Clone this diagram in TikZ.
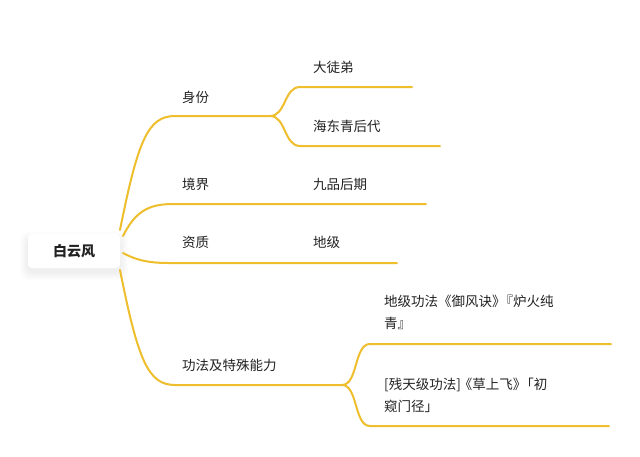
\documentclass[tikz,border=0pt]{standalone}
\usepackage{fontspec}
\setmainfont{Noto Sans CJK SC}
\definecolor{branch}{HTML}{EEBE2C}
\definecolor{ink}{HTML}{222222}
\tikzset{
  lbl/.style={anchor=west, inner sep=0pt, text=ink, font=\fontsize{13.5pt}{22pt}\selectfont, align=left},
  br/.style={draw=branch, line width=2pt, line cap=round},
  rootbox/.style={fill=white, rounded corners=4pt, minimum width=92pt, minimum height=34pt, text=ink,
    font=\fontsize{14pt}{16pt}\selectfont\bfseries},
  softshadow/.style={fill=black, opacity=0.006, rounded corners=8pt}
}
\begin{document}
\begin{tikzpicture}[x=1pt,y=-1pt]
\useasboundingbox (0,0) rectangle (640,456);
\fill[white] (0,0) rectangle (640,456);
% soft shadow of root box
\foreach \d in {1,2,...,8}{
  \fill[softshadow] (28-\d,236-\d+4) rectangle (120+\d,268+\d+4);
}
% root
\node[rootbox] (root) at (74,251) {白云风};
% labels
\node[lbl] (sf) at (182,97) {身份};
\node[lbl] (dtd) at (313,67) {大徒弟};
\node[lbl] (hdq) at (313,126) {海东青后代};
\node[lbl] (jj) at (182,184) {境界};
\node[lbl] (jp) at (313,184) {九品后期};
\node[lbl] (zz) at (182,242) {资质};
\node[lbl] (dj) at (313,242) {地级};
\node[lbl] (gf) at (182,365) {功法及特殊能力};
\node[lbl] (yf) at (384,312) {地级功法《御风诀》\kern-6pt『炉火纯\\青』};
\node[lbl] (cs) at (384,395) {[残天级功法]\kern-2pt《草上飞》\kern-6pt「初\\窥门径」};
% anchor coordinates
\coordinate (r1) at (120,230);
\coordinate (r2) at (123,236);
\coordinate (r3) at (123,253);
\coordinate (r4) at (120,270);
\coordinate (sfa) at (175,116); \coordinate (sfb) at (270,116);
\coordinate (dtda) at (300,87); \coordinate (dtdb) at (412,87);
\coordinate (hdqa) at (300,146); \coordinate (hdqb) at (440,146);
\coordinate (jja) at (173,204); \coordinate (jpb) at (426,204);
\coordinate (zza) at (170,263); \coordinate (djb) at (397,263);
\coordinate (gfa) at (175,385); \coordinate (gfb) at (342,385);
\coordinate (yfa) at (370,344); \coordinate (yfb) at (611,344);
\coordinate (csa) at (370,426); \coordinate (csb) at (609,426);
% level 1 branches
\draw[br] (r1) .. controls (138,140) and (148,116) .. (sfa) -- (sfb);
\draw[br] (r2) .. controls (135,212) and (148,204) .. (jja) -- (jpb);
\draw[br] (r3) .. controls (138,261) and (150,263) .. (zza) -- (djb);
\draw[br] (r4) .. controls (138,360) and (148,385) .. (gfa) -- (gfb);
% level 2 branches
\draw[br] (sfb) .. controls (286,116) and (284,87) .. (dtda) -- (dtdb);
\draw[br] (sfb) .. controls (286,116) and (284,146) .. (hdqa) -- (hdqb);
\draw[br] (gfb) .. controls (358,385) and (354,344) .. (yfa) -- (yfb);
\draw[br] (gfb) .. controls (358,385) and (354,426) .. (csa) -- (csb);
\end{tikzpicture}
\end{document}
